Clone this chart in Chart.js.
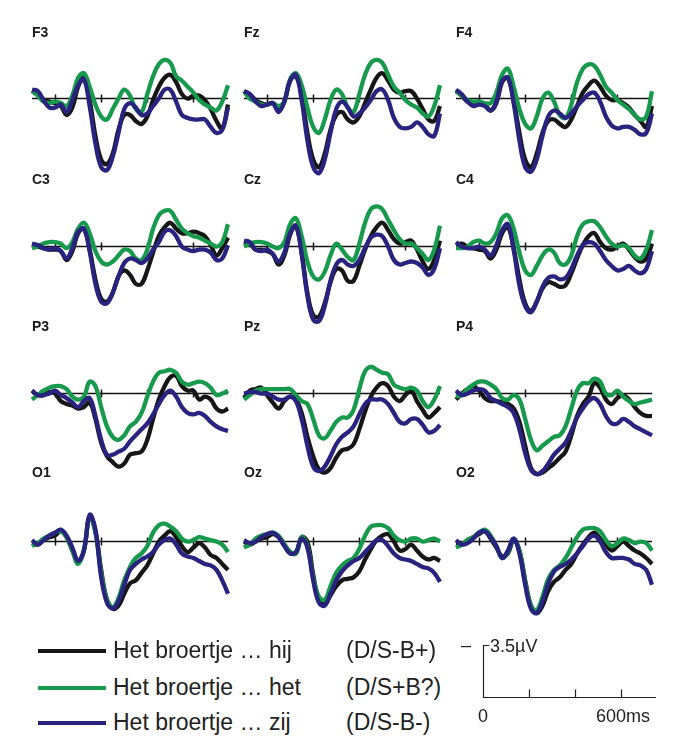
<!DOCTYPE html>
<html><head><meta charset="utf-8">
<script src="https://cdn.jsdelivr.net/npm/chart.js@4.4.1/dist/chart.umd.min.js"></script>
<style>
html,body{margin:0;padding:0;background:#fff;width:685px;height:754px;overflow:hidden;font-family:Arial,"Liberation Sans",sans-serif;}
canvas{position:absolute;}
.lbl{position:absolute;font-size:14px;line-height:14px;color:#1a1a1a;font-weight:bold;}
.leg{position:absolute;font-size:23px;line-height:23px;color:#222;white-space:pre;}
.sw{position:absolute;height:4px;width:68px;left:38px;}
.sc{position:absolute;font-size:18px;line-height:18px;color:#222;white-space:pre;}
</style></head>
<body>
<script>
// ---------- data (µV, negative plotted up) ----------
const timesMs = [-100,-75,-50,-25,0,25,50,75,100,125,150,175,200,225,250,275,300,325,350,375,400,425,450,475,500,525,550,575,600,625,650,675,700,725,750];
const electrodes = ['F3','Fz','F4','C3','Cz','C4','P3','Pz','P4','O1','Oz','O2'];
const conditionNames = ['Het broertje … hij','Het broertje … het','Het broertje … zij'];
const conditionCodes = ['(D/S-B+)','(D/S+B?)','(D/S-B-)'];
const conditionColors = ['#161616','#179a4b','#28237f'];
const axisTicksMs = [0,200,400,600];
const scaleBarUv = 3.5;
const scaleBarLabels = ['0','600ms','3.5µV'];

const hij_F3 = [-0.5,-0.3,0.1,0.2,0.3, 0.5,1.1,0.6,-0.8,-1.4, 0.1,2.5,4.1,4.4,3.7, 2.1,1.1,1.1,1.5,1.7, 1.2,0.1,-0.8,-1.4,-1.6, -1.1,-0.3,0,-0.2,-0.2, 0.1,0.7,1.5,2.0,0.4];
const het_F3 = [-0.5,-0.2,0.2,0.3,0.2, 0.3,0.5,-0.2,-1.4,-1.7, -0.8,0.4,1.2,1.4,0.7, 0,-0.6,-0.2,0.7,0.9, -0.3,-1.5,-2.3,-2.6,-2.4, -1.5,-1.2,-0.8,-0.4,0.1, 0.4,0.6,0.8,0.2,-0.9];
const zij_F3 = [-0.6,-0.5,0.1,0.6,0.6, 0.4,0.9,0.1,-0.9,-1.3, 0.5,3.0,4.6,4.8,3.9, 2.3,0.7,0.3,0.6,1.1, 1.0,0.5,0,-0.6,-0.6, 0.2,1.1,1.3,1.4,1.4, 1.4,1.9,2.3,2.1,0.6];

const hij_Fz = [-0.5,-0.3,0.1,0.3,0.4, 0.3,0.8,0.2,-1.2,-1.5, -0.2,2.3,4.1,4.6,3.7, 2.1,1.1,0.9,1.4,1.6, 1.2,0.3,-0.6,-1.4,-1.7, -1.2,-0.6,-0.4,-0.5,-0.5, 0,0.7,1.4,1.5,0.5];
const het_Fz = [-0.5,0,0.2,0.4,0.4, 0.3,0.5,0.2,-1.3,-1.7, -0.9,0.6,1.9,2.3,1.4, 0.1,-0.6,-0.3,0.6,0.9, -0.3,-1.6,-2.4,-2.6,-2.4, -1.6,-0.8,-0.4,0.1,0.4, 0.6,1.0,1.2,0.5,-0.9];
const zij_Fz = [-0.5,-0.3,0.2,0.5,0.4, 0.3,0.9,0.2,-1.2,-1.6, 0.1,2.8,4.6,5.0,4.1, 2.3,0.7,0.2,0.6,1.2, 1.0,0.6,0.1,-0.5,-0.6, 0.1,1.3,1.9,2.0,1.9, 1.6,1.9,2.4,2.5,1.0];

const hij_F4 = [-0.5,-0.2,0.2,0.3,0.2, 0.4,0.8,0.3,-1.1,-1.4, 0.1,2.3,4.1,4.6,3.7, 2.3,1.5,1.4,1.7,1.9, 1.4,0.5,-0.4,-0.9,-1.2, -0.8,-0.2,0.1,0.1,0.3, 0.6,1.1,1.5,1.9,0.5];
const het_F4 = [-0.5,-0.2,0.1,0.2,0.2, 0.3,0.3,-0.4,-1.6,-2.0, -0.8,0.7,1.7,2.0,1.2, 0,-0.4,0.2,1.1,1.3, 0.4,-1.1,-2.0,-2.3,-2.2, -1.6,-0.8,-0.4,0.1,0.4, 0.7,1.1,1.4,1.2,-0.5];
const zij_F4 = [-0.6,-0.3,0.2,0.5,0.4, 0.5,0.8,0.2,-1.2,-1.4, 0.3,2.8,4.6,4.9,4.1, 2.5,1.2,0.8,1.0,1.3, 1.0,0.5,0.1,-0.3,-0.4, 0.2,1.2,1.8,2.0,1.9, 1.9,2.1,2.4,2.3,1.0];

const hij_C3 = [-0.1,0,0.1,0.2,0.2, 0.3,0.9,0.3,-0.9,-1.2, 0.2,2.2,3.5,3.7,3.1, 2.0,1.6,1.9,2.5,2.5, 1.6,0.4,-0.7,-1.3,-1.6, -1.2,-0.9,-0.9,-1.0,-0.9, -0.7,-0.1,0.6,0.1,-0.6];
const het_C3 = [0.1,0,-0.2,-0.3,-0.3, -0.2,0.1,-0.3,-1.2,-1.6, -0.9,0.3,1.0,1.2,1.0, 0.6,0.2,0.3,0.8,0.9, 0.2,-1.2,-2.1,-2.4,-2.4, -1.8,-1.2,-0.9,-0.7,-0.6, -0.4,-0.2,0,-0.3,-1.5];
const zij_C3 = [-0.2,-0.1,0.1,0.2,0.1, 0.3,0.8,0.1,-1.0,-1.2, 0.3,2.5,3.7,3.8,3.1, 2.0,1.1,0.8,0.9,1.1, 0.8,0.2,-0.3,-1.0,-1.1, -0.7,0,0.2,0.3,0.2, 0.2,0.4,0.9,0.8,-0.1];

const hij_Cz = [-0.3,-0.2,0.2,0.2,0.3, 0.5,1.2,0.6,-0.8,-1.4, 0.4,3.1,4.6,4.7,3.8, 2.4,1.5,1.6,2.3,2.3, 1.3,0.2,-0.7,-1.3,-1.6, -1.1,-0.5,-0.2,-0.3,-0.4, 0.2,1.0,1.5,0.9,-0.4];
const het_Cz = [0,-0.2,-0.3,-0.3,-0.2, 0,0.1,-0.3,-1.5,-1.9, -0.7,1.0,2.0,2.2,1.7, 0.6,-0.2,0.2,0.7,0.9, -0.2,-1.6,-2.5,-2.7,-2.5, -1.8,-1.1,-0.5,-0.2,-0.2, 0.1,0.5,0.9,0.2,-1.4];
const zij_Cz = [-0.4,-0.3,0.2,0.3,0.2, 0.5,1.0,0.4,-0.9,-1.4, 0.5,3.3,4.9,5.0,4.0, 2.3,1.2,0.9,1.2,1.3, 0.9,0.1,-0.6,-0.8,-0.7, 0,0.9,1.2,1.1,1.0, 1.1,1.4,1.9,1.5,0.1];

const hij_C4 = [-0.1,-0.2,0,0.1,0.2, 0.3,0.8,0.2,-0.9,-1.3, 0.1,2.2,3.8,4.3,3.7, 2.8,2.4,2.5,2.7,2.6, 1.8,0.8,-0.1,-0.7,-0.9, -0.3,0.1,0.2,0,-0.2, 0.2,0.7,1.0,0.8,-0.2];
const het_C4 = [0.1,0.1,0,-0.3,-0.4, -0.2,-0.3,-0.9,-1.9,-2.1, -1.2,0.4,1.6,1.9,1.3, 0.6,0.2,0.4,1.1,1.2, 0.6,-0.7,-1.5,-1.7,-1.7, -1.3,-0.7,-0.2,0,-0.1, 0.1,0.6,0.8,0.2,-1.1];
const zij_C4 = [-0.3,0,0.1,0.1,0, 0.2,0.6,-0.1,-1.1,-1.5, 0.2,2.6,4.0,4.4,3.7, 2.7,2.1,2.0,2.2,2.1, 1.5,0.6,-0.1,-0.3,-0.2, 0.3,0.9,1.3,1.6,1.5, 1.3,1.6,1.8,1.5,0.3];

const hij_P3 = [-0.2,0.1,0.1,-0.1,0, 0.5,0.7,0.8,1.0,0.9, 0.6,1.7,3.3,4.2,4.6, 4.9,4.7,4.1,4.0,3.9, 3.1,1.7,0.4,-0.5,-1.1, -1.2,-0.5,-0.2,-0.2,0.4, 0.2,0.4,1.0,1.2,1.0];
const het_P3 = [0.4,0.1,-0.2,-0.4,-0.5, -0.5,-0.3,0.2,0.4,0.2, -0.8,-0.5,0.9,2.2,2.9, 3.1,2.8,2.2,1.9,1.3, 0.2,-0.8,-1.4,-1.5,-1.6, -1.4,-0.8,-0.6,-0.7,-0.8, -0.7,-0.4,0.1,0,-0.2];
const zij_P3 = [-0.2,0.1,0.1,0,-0.2, 0.1,0.3,0.6,0.9,0.5, 0.3,1.5,3.1,4.1,4.1, 3.9,3.7,3.2,2.8,2.4, 2.0,1.4,0.7,0.1,-0.2, 0.2,0.9,1.3,1.4,1.3, 1.5,1.9,2.2,2.4,2.5];

const hij_Pz = [0.3,-0.2,-0.3,-0.4,0.1, 0.6,1.0,0.5,0.2,0.4, 1.3,2.9,4.2,5.1,5.3, 5.0,4.3,3.8,3.7,3.4, 2.4,1.2,0.2,-0.4,-0.7, -0.5,0.2,0.5,0.1,-0.2, 0.5,1.1,1.6,1.3,0.9];
const het_Pz = [0.4,0.1,-0.2,-0.3,-0.3, -0.3,-0.3,-0.3,-0.3,0.1, 0.5,0.7,1.7,2.8,3.0, 2.5,1.9,1.6,1.6,1.1, -0.3,-1.5,-1.8,-1.6,-1.4, -1.3,-0.6,-0.4,-0.3,-0.4, -0.2,0.5,0.9,0.4,-0.5];
const zij_Pz = [0,-0.1,-0.1,0,0, 0.2,0.4,0.4,0.2,0.5, 1.7,3.5,4.9,5.2,4.9, 4.2,3.4,2.9,2.6,2.2, 1.4,0.7,0.4,0.4,0.4, 0.7,1.3,1.9,2.0,1.7, 1.7,2.1,2.6,2.5,2.1];

const hij_P4 = [0.4,0,-0.3,-0.5,-0.2, 0.3,0.5,0.5,0.6,0.7, 1.0,1.9,3.5,5.0,5.4, 5.3,5.0,4.7,4.3,3.9, 2.8,1.5,0.7,0.2,-0.7, -0.4,0.4,0.7,0.3,0.1, 0.4,0.9,1.3,1.5,1.5];
const het_P4 = [0.2,0.1,-0.3,-0.6,-0.8, -0.8,-0.6,-0.3,0.3,0.4, 0.1,0.4,1.7,3.1,3.8, 3.5,3.2,2.9,2.8,2.2, 1.0,-0.2,-0.7,-0.7,-1.0, -0.8,0,0.1,-0.2,0.2, 0.5,0.7,0.6,0.5,0.4];
const zij_P4 = [-0.2,0.1,0,-0.2,-0.3, -0.2,0.3,0.5,0.7,0.9, 1.3,2.4,4.0,5.1,5.4, 5.2,4.7,4.1,3.7,3.3, 2.5,1.6,1.0,0.5,0.3, 0.7,1.5,2.0,2.0,1.7, 1.9,2.2,2.4,2.6,2.8];

const hij_O1 = [0.1,0.2,-0.1,-0.3,-0.4, -0.7,-0.3,0.6,1.3,0.6, -1.7,-0.7,1.9,3.9,4.5, 4.3,3.5,2.8,2.6,2.1, 1.6,0.8,0,-0.4,-0.7, -0.3,0.3,0.7,0.4,0.1, 0.4,0.9,1.1,1.5,1.9];
const het_O1 = [0.3,0.1,-0.2,-0.4,-0.6, -0.7,-0.3,0.6,1.5,0.6, -1.7,-0.6,2.1,3.9,4.4, 3.8,2.6,1.7,1.1,0.8, 0.3,-0.6,-1.1,-1.2,-1.0, -0.7,-0.2,0,-0.1,-0.3, -0.2,-0.1,0,0.2,0.7];
const zij_O1 = [-0.1,0.2,-0.1,-0.4,-0.6, -0.8,-0.4,0.4,1.3,0.6, -1.8,-0.8,2.4,4.1,4.5, 4.0,2.9,1.9,1.5,1.2, 1.0,0.7,0.2,-0.1,-0.2, 0.2,0.8,1.0,1.1,1.3, 1.5,1.6,1.9,2.6,3.5];

const hij_Oz = [0,0.2,0,-0.2,-0.3, -0.5,-0.3,0.2,0.7,0.8, -0.3,0,2.2,3.9,4.2, 3.6,3.0,2.6,2.5,2.4, 2.0,1.2,0.5,-0.1,-0.4, -0.5,0,0.6,0.5,0.2, 0.6,1.0,1.2,1.1,1.3];
const het_Oz = [0.4,0.2,-0.2,-0.4,-0.5, -0.6,-0.4,0.2,0.7,0.8, -0.3,0.3,2.4,3.7,3.9, 3.0,2.1,1.6,1.3,1.1, 0.5,-0.4,-1.0,-1.1,-1.1, -0.9,-0.4,-0.1,0,-0.2, -0.2,0,-0.1,-0.2,0];
const zij_Oz = [-0.1,0.1,0,-0.3,-0.5, -0.6,-0.3,0.3,0.8,0.7, -0.2,0.4,2.6,4.1,4.3, 3.5,2.6,2.0,1.6,1.3, 1.1,0.7,0.3,-0.1,-0.1, 0.3,0.8,1.1,1.2,1.3, 1.5,1.7,1.8,2.1,2.7];

const hij_O2 = [0.2,0.2,-0.1,-0.3,-0.5, -0.7,-0.2,0.4,1.0,0.8, -0.1,0.6,2.6,4.3,4.8, 4.3,3.3,2.7,2.4,1.9, 1.5,0.8,0.2,-0.3,-0.6, -0.2,0.2,0.6,0.3,0, 0.3,0.6,0.8,1.1,1.5];
const het_O2 = [0.4,0.2,-0.1,-0.3,-0.6, -0.8,-0.4,0.3,1.1,0.7, -0.2,0.6,2.7,4.3,4.6, 3.7,2.5,1.9,1.6,1.1, 0.4,-0.3,-0.8,-0.9,-0.9, -0.7,-0.1,0.3,0.1,-0.2, -0.1,0.1,0,0.1,0.6];
const zij_O2 = [-0.1,0.2,0.1,-0.2,-0.6, -0.7,-0.3,0.3,1.1,0.6, -0.2,0.8,2.9,4.5,4.8, 4.0,2.8,2.0,1.7,1.5, 1.2,0.8,0.3,-0.2,-0.4, 0,0.7,1.1,1.1,1.1, 1.2,1.5,1.6,1.9,2.9];

const waves = {
  F3:[hij_F3,het_F3,zij_F3], Fz:[hij_Fz,het_Fz,zij_Fz], F4:[hij_F4,het_F4,zij_F4],
  C3:[hij_C3,het_C3,zij_C3], Cz:[hij_Cz,het_Cz,zij_Cz], C4:[hij_C4,het_C4,zij_C4],
  P3:[hij_P3,het_P3,zij_P3], Pz:[hij_Pz,het_Pz,zij_Pz], P4:[hij_P4,het_P4,zij_P4],
  O1:[hij_O1,het_O1,zij_O1], Oz:[hij_Oz,het_Oz,zij_Oz], O2:[hij_O2,het_O2,zij_O2]
};

// ---------- layout ----------
const colLeft = [28, 240, 452];   // canvas left (chart area starts 4px later)
const rowTop  = [35, 183, 330, 478];
const labelLeft = [32, 244, 456];
const labelTop  = [25, 172, 319, 465];

const baselinePlugin = {
  id:'baseline',
  beforeDatasetsDraw(chart){
    const {ctx, scales:{x,y}} = chart;
    const y0 = y.getPixelForValue(0);
    ctx.save();
    ctx.strokeStyle = '#111'; ctx.lineWidth = 1.5;
    ctx.beginPath();
    ctx.moveTo(x.getPixelForValue(x.min), y0);
    ctx.lineTo(x.getPixelForValue(x.max), y0);
    axisTicksMs.forEach(t=>{ const px = Math.round(x.getPixelForValue(t))+0.5; ctx.moveTo(px, y0-4); ctx.lineTo(px, y0+4); });
    ctx.stroke();
    ctx.restore();
  }
};

function addCanvas(left, top, w, h){
  const c = document.createElement('canvas');
  c.width = w; c.height = h;
  c.style.left = left+'px'; c.style.top = top+'px';
  c.style.width = w+'px'; c.style.height = h+'px';
  document.body.appendChild(c);
  return c;
}
function addText(cls, text, left, top, color){
  const d = document.createElement('div');
  d.className = cls; d.textContent = text;
  d.style.left = left+'px'; d.style.top = top+'px';
  if (color) d.style.color = color;
  document.body.appendChild(d);
  return d;
}

electrodes.forEach((el, i)=>{
  const col = i % 3, row = Math.floor(i / 3);
  const cv = addCanvas(colLeft[col], rowTop[row], 204, 157);
  addText('lbl', el, labelLeft[col], labelTop[row]);
  const sets = waves[el].map((vals, k)=>({
    label: conditionNames[k],
    data: timesMs.map((t, j)=>({x:t, y:vals[j]})),
    borderColor: conditionColors[k],
    borderWidth: 4.3,
    pointRadius: 0,
    tension: 0.4,
    fill: false,
    clip: false,
    order: 3 - k
  }));
  new Chart(cv, {
    type:'line',
    data:{datasets: sets},
    options:{
      responsive:false, animation:false, events:[],
      layout:{padding:4},
      plugins:{legend:{display:false}, tooltip:{enabled:false}},
      scales:{
        x:{type:'linear', min:-100, max:750, display:false},
        y:{type:'linear', min:-4, max:6, reverse:true, display:false}
      }
    },
    plugins:[baselinePlugin]
  });
});

// ---------- legend ----------
const legendTops = [639, 676, 711];
const legendLineY = [649, 686, 721];
conditionNames.forEach((n, k)=>{
  const sw = document.createElement('div');
  sw.className = 'sw'; sw.style.top = legendLineY[k]+'px'; sw.style.background = conditionColors[k];
  document.body.appendChild(sw);
  addText('leg', n, 113, legendTops[k]);
  addText('leg', conditionCodes[k], 346, legendTops[k]);
});

// ---------- scale bar ----------
const scaleCanvas = addCanvas(473, 640, 193, 62);
const scaleBarPlugin = {
  id:'scalebar',
  afterDraw(chart){
    const {ctx, scales:{x,y}} = chart;
    const x0 = Math.round(x.getPixelForValue(0))+0.5;
    const yb = Math.round(y.getPixelForValue(0))+0.5;
    const yt = Math.round(y.getPixelForValue(scaleBarUv))+0.5;
    ctx.save(); ctx.strokeStyle='#222'; ctx.lineWidth=1.2;
    ctx.beginPath();
    ctx.moveTo(x0+6, yt); ctx.lineTo(x0, yt); ctx.lineTo(x0, yb);
    ctx.lineTo(x.getPixelForValue(x.max), yb);
    axisTicksMs.slice(1).forEach(t=>{ const px = Math.round(x.getPixelForValue(t))+0.5; ctx.moveTo(px, yb); ctx.lineTo(px, yb-8); });
    ctx.stroke(); ctx.restore();
  }
};
new Chart(scaleCanvas, {
  type:'line', data:{datasets:[]},
  options:{
    responsive:false, animation:false, events:[],
    layout:{padding:{left:10,right:10,top:5,bottom:5}},
    plugins:{legend:{display:false}, tooltip:{enabled:false}},
    scales:{ x:{type:'linear', min:0, max:750, display:false}, y:{type:'linear', min:0, max:scaleBarUv, display:false} }
  },
  plugins:[scaleBarPlugin]
});
addText('sc', '–', 461, 636);
addText('sc', scaleBarLabels[2], 490, 637);
addText('sc', scaleBarLabels[0], 478, 707);
addText('sc', scaleBarLabels[1], 596, 707);
</script>
</body></html>
